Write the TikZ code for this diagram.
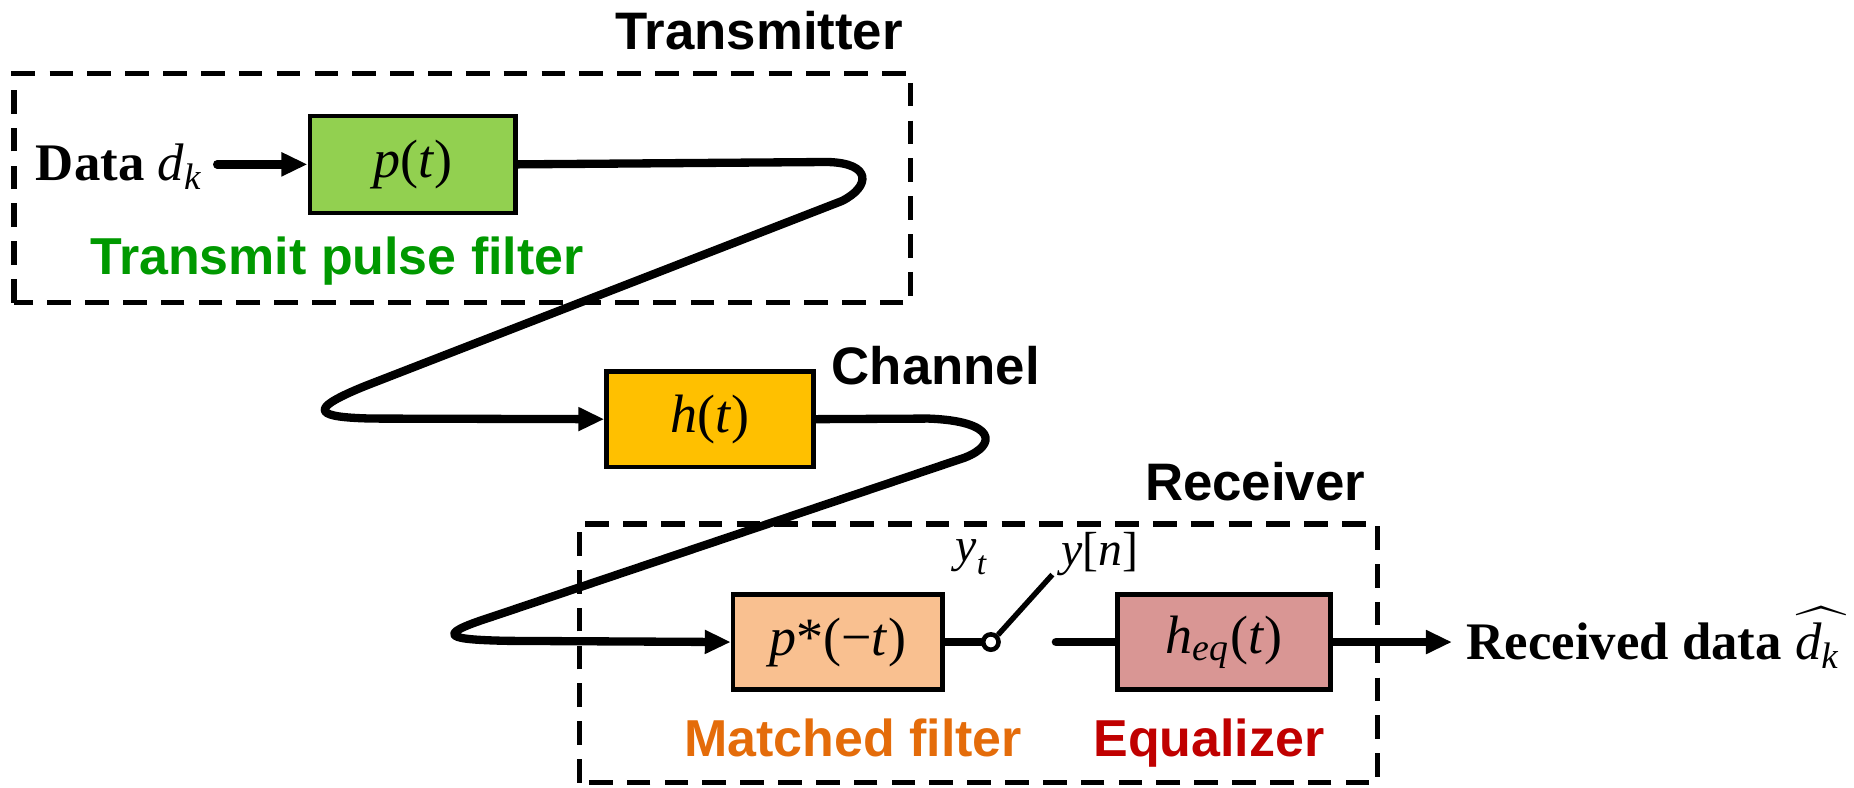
\documentclass[tikz,border=0pt]{standalone}
\usepackage{fontspec}
\setmainfont{Liberation Serif}
\setsansfont{Liberation Sans}
\usepackage{amsmath}
\usepackage{tikz}
\usetikzlibrary{arrows.meta, positioning, calc}
\definecolor{pulsegreen}{RGB}{146, 208, 80}
\definecolor{txgreen}{RGB}{0, 153, 0}
\definecolor{changold}{RGB}{255, 192, 0}
\definecolor{mfpeach}{RGB}{249, 192, 144}
\definecolor{mforange}{RGB}{228, 108, 10}
\definecolor{eqrose}{RGB}{217, 150, 148}
\definecolor{eqred}{RGB}{192, 0, 0}
\tikzset{
    blockbox/.style={draw, rectangle, minimum width=1.75cm, minimum height=0.81cm, line width=1.1pt, font=\fontsize{13}{15}\selectfont},
    pulsebox/.style={blockbox, fill=pulsegreen},
    chanbox/.style={blockbox, fill=changold},
    mfbox/.style={blockbox, fill=mfpeach, minimum width=1.77cm, minimum height=0.8cm},
    eqbox/.style={blockbox, fill=eqrose, minimum width=1.8cm, minimum height=0.8cm},
    groupbox/.style={draw, line width=1.3pt, dash pattern=on 2mm off 1.2mm},
    grouptitle/.style={font=\sffamily\bfseries\fontsize{12.7}{15}\selectfont},
    blocklabel/.style={font=\sffamily\bfseries\fontsize{12.5}{15}\selectfont},
    sidetext/.style={font=\fontsize{12.7}{15}\selectfont},
    samplabel/.style={font=\fontsize{11.5}{14}\selectfont},
    wire/.style={line width=2pt, line cap=round, line join=round},
    dataarrow/.style={wire, -{Triangle[length=2.2mm, width=1.9mm]}},
}

\begin{document}
\begin{tikzpicture}
    \useasboundingbox (0,0) rectangle (15.68,6.66);

    % Transmitter
    \draw[groupbox] (0.12,4.10) rectangle (7.70,6.04);
    \node[grouptitle] (txtitle) at (6.42,6.40) {Transmitter};
    \node[pulsebox, minimum width=1.74cm, minimum height=0.82cm] (pt) at (3.49,5.27) {\textit{p}(\textit{t})};
    \node[sidetext, anchor=base west] (dk) at (0.18,5.13) {\textbf{Data} $\textit{d}_{\textit{k}}$};
    \node[blocklabel, text=txgreen, anchor=base] (ptlabel) at (2.85,4.34) {Transmit pulse filter};
    \draw[dataarrow] (dk.east |- pt.west) -- (pt.west);

    % Channel
    \node[chanbox] (ht) at (6.005,3.115) {\textit{h}(\textit{t})};
    \node[grouptitle, anchor=base] (chtitle) at (7.915,3.41) {Channel};

    % Receiver
    \draw[groupbox] (4.90,0.04) rectangle (11.65,2.23);
    \node[grouptitle, anchor=base] (rxtitle) at (10.615,2.43) {Receiver};
    \node[mfbox] (mf) at (7.085,1.23) {\textit{p}*(−\textit{t})};
    \node[eqbox] (heq) at (10.35,1.23) {$\textit{h}_{\textit{eq}}$(\textit{t})};
    \node[blocklabel, text=mforange, anchor=base] (mflabel) at (7.215,0.26) {Matched filter};
    \node[blocklabel, text=eqred, anchor=base] (eqlabel) at (10.225,0.26) {Equalizer};

    % Sampler
    \node[draw, circle, line width=1.1pt, inner sep=0pt, minimum size=0.13cm] (sw) at (8.38,1.23) {};
    \coordinate (swtip) at (8.90,1.80);
    \coordinate (swout) at (8.93,1.23);
    \node[samplabel, anchor=base] (yt) at (8.22,1.91) {$\textit{y}_{\textit{t}}$};
    \node[samplabel, anchor=base] (yn) at (9.30,1.88) {\textit{y}[\textit{n}]};
    \draw[wire] (mf.east) -- (sw.west);
    \draw[line width=1.3pt] (sw.north east) -- (swtip);
    \draw[wire] (swout) -- (heq.west);

    % Output
    \node[sidetext, anchor=base west] (rx) at (12.28,1.08) {\textbf{Received data} $\widehat{\textit{d}_{\textit{k}}\mkern3mu}$};
    \draw[dataarrow] (heq.east) -- (heq.east -| rx.west);

    % Links through the channel
    \draw[dataarrow] (pt.east) -- (7.0,5.29)
        .. controls (7.38,5.28) and (7.36,5.08) .. (7.12,4.96)
        -- (3.1,3.40)
        .. controls (2.55,3.18) and (2.70,3.13) .. (3.15,3.12)
        -- (ht.west);
    \draw[dataarrow] (ht.east) -- (7.85,3.12)
        .. controls (8.42,3.10) and (8.44,2.90) .. (8.16,2.79)
        -- (4.15,1.44)
        .. controls (3.65,1.28) and (3.80,1.25) .. (4.30,1.24)
        -- (mf.west);
\end{tikzpicture}
\end{document}
